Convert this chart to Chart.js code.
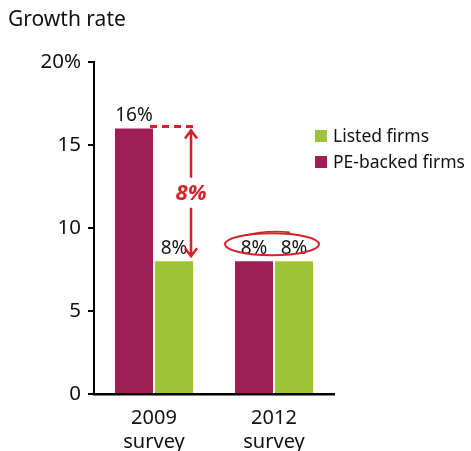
<!DOCTYPE html>
<html>
<head>
<meta charset="utf-8">
<script src="https://cdn.jsdelivr.net/npm/chart.js@4.4.1/dist/chart.umd.min.js"></script>
<style>
  html, body { margin: 0; padding: 0; background: #fff; }
  canvas { display: block; }
</style>
</head>
<body>
<canvas id="growthChart" width="471" height="451"></canvas>
<script>
// survey data
const surveys = [['2009', 'survey'], ['2012', 'survey']];
const peBacked = [16, 8];
const listed = [8, 8];
const yTicks = [0, 5, 10, 15, 20];

const FONT = '"Noto Sans", "Open Sans", sans-serif';
const PE_COLOR = '#9e1f55';
const LISTED_COLOR = '#9dc436';
const RED = '#d2232a';

// title, legend, value labels and the gap annotation
const overlay = {
    id: 'overlay',
    afterDatasetsDraw(chart) {
        const ctx = chart.ctx;
        const y = chart.scales.y;
        ctx.save();

        // title
        ctx.fillStyle = '#111';
        ctx.font = '21px ' + FONT;
        ctx.textAlign = 'left';
        ctx.textBaseline = 'alphabetic';
        ctx.fillText('Growth rate', 8, 26);

        // value labels above each bar
        ctx.font = '19px ' + FONT;
        ctx.textAlign = 'center';
        chart.data.datasets.forEach((ds, i) => {
            chart.getDatasetMeta(i).data.forEach((bar, j) => {
                ctx.fillText(ds.data[j] + '%', bar.x, bar.y - 7);
            });
        });

        // legend (listed first)
        const items = [chart.data.datasets[1], chart.data.datasets[0]];
        ctx.font = '17.5px ' + FONT;
        ctx.textAlign = 'left';
        ctx.textBaseline = 'middle';
        items.forEach((ds, k) => {
            const ly = 136 + k * 26;
            ctx.fillStyle = ds.backgroundColor;
            ctx.fillRect(315, ly - 6, 12, 12);
            ctx.fillStyle = '#111';
            ctx.fillText(ds.label, 333, ly + 1);
        });

        // gap between the 2009 bars
        const peBar = chart.getDatasetMeta(0).data[0];
        const lBar = chart.getDatasetMeta(1).data[0];
        const yTop = y.getPixelForValue(peBacked[0]) - 2;
        const yBot = y.getPixelForValue(listed[0]);
        const ax = lBar.x + lBar.width / 2 - 2;
        ctx.strokeStyle = RED;
        ctx.fillStyle = RED;
        ctx.lineWidth = 3;
        ctx.setLineDash([7, 5]);
        ctx.beginPath();
        ctx.moveTo(peBar.x + peBar.width / 2 - 3, yTop);
        ctx.lineTo(ax + 6, yTop);
        ctx.stroke();
        ctx.setLineDash([]);

        const midY = (yTop + yBot) / 2;
        ctx.lineWidth = 2.5;
        ctx.beginPath();
        ctx.moveTo(ax, yTop + 3);
        ctx.lineTo(ax, midY - 16);
        ctx.moveTo(ax, midY + 14);
        ctx.lineTo(ax, yBot - 4);
        // arrow heads
        ctx.moveTo(ax - 6, yTop + 12);
        ctx.lineTo(ax, yTop + 4);
        ctx.lineTo(ax + 6, yTop + 12);
        ctx.moveTo(ax - 6, yBot - 13);
        ctx.lineTo(ax, yBot - 5);
        ctx.lineTo(ax + 6, yBot - 13);
        ctx.stroke();

        ctx.font = 'italic bold 22px ' + FONT;
        ctx.textAlign = 'center';
        ctx.textBaseline = 'middle';
        ctx.fillText((peBacked[0] - listed[0]) + '%', ax, midY);

        // hand-drawn ring around the 2012 labels
        const cx = chart.scales.x.getPixelForValue(1) - 2;
        const cy = y.getPixelForValue(8) - 17;
        ctx.lineWidth = 2;
        ctx.beginPath();
        ctx.ellipse(cx, cy, 47, 11, 0, 0, Math.PI * 2);
        ctx.stroke();
        ctx.lineWidth = 1.6;
        ctx.beginPath();
        ctx.ellipse(cx + 2, cy + 1.5, 44, 14, -0.02, Math.PI * 1.28, Math.PI * 1.62);
        ctx.stroke();

        ctx.restore();
    }
};

new Chart(document.getElementById('growthChart'), {
    type: 'bar',
    data: {
        labels: surveys,
        datasets: [
            { label: 'PE-backed firms', data: peBacked, backgroundColor: PE_COLOR },
            { label: 'Listed firms', data: listed, backgroundColor: LISTED_COLOR }
        ]
    },
    options: {
        responsive: false,
        animation: false,
        categoryPercentage: 0.667,
        barPercentage: 0.95,
        layout: { padding: { top: 62, right: 137, left: 0, bottom: 0 } },
        plugins: { legend: { display: false }, tooltip: { enabled: false } },
        scales: {
            x: {
                grid: { display: false },
                border: { display: true, color: '#000', width: 2.5 },
                ticks: { color: '#111', font: { family: FONT, size: 20, lineHeight: 1.2 }, padding: 4 },
                afterFit(scale) { scale.height = 57; }
            },
            y: {
                min: 0,
                max: 20,
                afterBuildTicks(scale) { scale.ticks = yTicks.map(v => ({ value: v })); },
                grid: { drawOnChartArea: false, drawTicks: true, tickLength: 6, color: '#000', lineWidth: 2 },
                border: { display: true, color: '#000', width: 2 },
                ticks: {
                    color: '#111',
                    font: { family: FONT, size: 20.5 },
                    padding: 7,
                    callback: v => v === 20 ? '20%' : v
                },
                afterFit(scale) { scale.width = 94; }
            }
        }
    },
    plugins: [overlay]
});
</script>
</body>
</html>
